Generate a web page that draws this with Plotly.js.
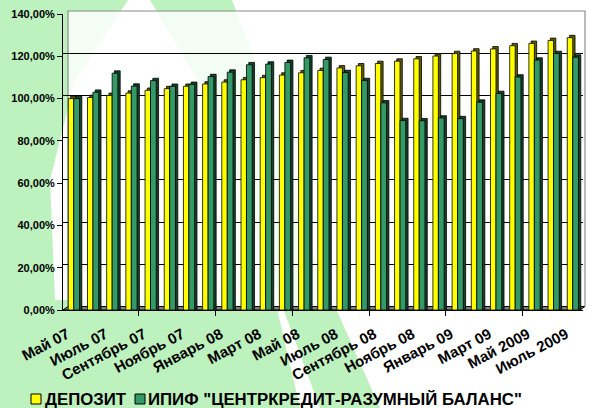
<!DOCTYPE html>
<html><head><meta charset="utf-8">
<script src="https://cdn.plot.ly/plotly-3.0.1.min.js"></script>
<style>html,body{margin:0;padding:0;background:#fff}#chart{width:589px;height:408px}</style>
</head><body><div id="chart"></div>
<script>
const months = ["Май 07","Июнь 07","Июль 07","Август 07","Сентябрь 07","Октябрь 07","Ноябрь 07","Декабрь 07","Январь 08","Февраль 08","Март 08","Апрель 08","Май 08","Июнь 08","Июль 08","Август 08","Сентябрь 08","Октябрь 08","Ноябрь 08","Декабрь 08","Январь 09","Февраль 09","Март 09","Апрель 09","Май 2009","Июнь 2009","Июль 2009"];
const deposit = [100, 100.5, 101.5, 102.6, 103.9, 104.7, 105.8, 106.9, 107.8, 108.9, 109.9, 111.1, 112.2, 113.3, 114.5, 115.5, 116.6, 117.7, 118.8, 120.1, 121.3, 122.5, 123.5, 125.0, 126.1, 127.5, 128.8];
const fund = [100, 103, 112, 105.9, 108.5, 105.8, 106.7, 110.4, 112.5, 116, 116.3, 117.1, 119.3, 118.5, 112.3, 108.5, 98, 89.6, 89.5, 90.8, 90.5, 98.3, 102.4, 110.2, 118.2, 121.3, 119.6];
const seriesNames = ["ДЕПОЗИТ", "ИПИФ \"ЦЕНТРКРЕДИТ-РАЗУМНЫЙ БАЛАНС\""];
const seriesColors = ["#FFFF00", "#339966"];
const yTickVals = [0, 20, 40, 60, 80, 100, 120, 140];
const yTickText = ["0,00%", "20,00%", "40,00%", "60,00%", "80,00%", "100,00%", "120,00%", "140,00%"];

const idx = months.map((m, i) => i);
const labelIdx = idx.filter(i => i % 2 === 0);
const labelText = labelIdx.map(i => months[i]);

// geometry (pixels of the plot area)
const L = 63, R = 583, T = 14, B = 310;
const W = 589, H = 408;
const PX = px => (px - L) / (R - L);
const PY = py => (B - py) / (B - T);
const pathFrom = pts => pts.map((p, i) => (i ? 'L' : 'M') + PX(p[0]).toFixed(4) + ',' + PY(p[1]).toFixed(4)).join(' ') + ' Z';

const dX = 0.12, dY = 1.1;
const yOff = -0.35, yW = 0.285, gOff = -0.065, gW = 0.3;
const font = "'Liberation Sans', Arial, sans-serif";

const traces = [
  {type: 'bar', x: idx, y: deposit.map(v => v + dY), offset: yOff + dX, width: yW,
   marker: {color: '#5e5e00', line: {color: '#000', width: 0.8}}, showlegend: false, hoverinfo: 'skip'},
  {type: 'bar', x: idx, y: deposit, offset: yOff, width: yW, name: seriesNames[0],
   marker: {color: seriesColors[0], line: {color: '#000', width: 0.8}}},
  {type: 'bar', x: idx, y: fund.map(v => v + dY), offset: gOff + dX, width: gW,
   marker: {color: '#17402a', line: {color: '#000', width: 0.8}}, showlegend: false, hoverinfo: 'skip'},
  {type: 'bar', x: idx, y: fund, offset: gOff, width: gW, name: seriesNames[1],
   marker: {color: seriesColors[1], line: {color: '#000', width: 0.8}}},
  // invisible trace to bring in the overlay axis for shifted back-wall gridlines
  {type: 'scatter', x: [0], y: [0], xaxis: 'x2', yaxis: 'y2', mode: 'markers',
   marker: {opacity: 0}, showlegend: false, hoverinfo: 'skip'}
];

const green = '#bdf1bd';
const shapes = [
  {type: 'path', xref: 'paper', yref: 'paper', layer: 'below', fillcolor: green, line: {width: 0},
   path: pathFrom([[0,0],[128,0],[75,80],[50,180],[55,300],[70,408],[0,408]])},
  {type: 'path', xref: 'paper', yref: 'paper', layer: 'below', fillcolor: green, line: {width: 0},
   path: pathFrom([[150,0],[232,0],[270,100],[310,250],[380,408],[320,408],[265,260],[215,110]])},
  {type: 'path', xref: 'paper', yref: 'paper', layer: 'below', fillcolor: green, line: {width: 0},
   path: pathFrom([[0,300],[275,300],[300,408],[0,408]])},
  // translucent back wall
  {type: 'rect', xref: 'paper', yref: 'paper', layer: 'below', fillcolor: 'rgba(255,255,255,0.82)', line: {width: 0},
   x0: PX(68), x1: PX(585), y0: PY(306.5), y1: PY(11)},
  // floor
  {type: 'path', xref: 'paper', yref: 'paper', layer: 'below', fillcolor: '#7f7f7f', line: {color: '#000', width: 1},
   path: pathFrom([[63,310],[580,310],[585,306.5],[68,306.5]])},
  // wall frame
  {type: 'path', xref: 'paper', yref: 'paper', layer: 'below', line: {color: '#8c8c8c', width: 1.2},
   path: 'M' + PX(68) + ',' + PY(306.5) + ' L' + PX(68) + ',' + PY(11) + ' L' + PX(585) + ',' + PY(11) + ' L' + PX(585) + ',' + PY(306.5)},
  // legend keys
  {type: 'rect', xref: 'paper', yref: 'paper', layer: 'above', fillcolor: seriesColors[0], line: {color: '#000', width: 1},
   x0: PX(31), x1: PX(41), y0: PY(404), y1: PY(394)},
  {type: 'rect', xref: 'paper', yref: 'paper', layer: 'above', fillcolor: seriesColors[1], line: {color: '#000', width: 1},
   x0: PX(135), x1: PX(145), y0: PY(404), y1: PY(394)}
];

const annotations = [
  {text: seriesNames[0], xref: 'paper', yref: 'paper', x: PX(43), y: PY(399.5), xanchor: 'left', yanchor: 'middle',
   showarrow: false, font: {size: 16.8, weight: 700, family: font, color: '#000'}},
  {text: seriesNames[1], xref: 'paper', yref: 'paper', x: PX(146), y: PY(399.5), xanchor: 'left', yanchor: 'middle',
   showarrow: false, font: {size: 16.8, weight: 700, family: font, color: '#000'}}
];

const layout = {
  width: W, height: H,
  margin: {l: L, r: W - R, t: T, b: H - B, pad: 0},
  paper_bgcolor: '#fff', plot_bgcolor: 'rgba(0,0,0,0)',
  barmode: 'overlay',
  font: {family: font, color: '#000'},
  xaxis: {range: [-0.625, 26.47], tickvals: labelIdx, ticktext: labelText, tickangle: -28,
          ticks: '', showgrid: false, zeroline: false, showline: true, linecolor: '#000', linewidth: 1,
          tickfont: {size: 15, weight: 700, family: font}, ticklabelshift: -8, ticklabelstandoff: 9},
  xaxis2: {overlaying: 'x', anchor: 'y', side: 'bottom', range: [-0.625, 26.47],
           tickvals: [0, 4, 8, 12, 16, 20, 24].map(v => v - 0.67), ticks: 'outside', ticklen: 5, tickcolor: '#000',
           showticklabels: false, showgrid: false, zeroline: false},
  yaxis: {range: [0, 140], tickvals: yTickVals, ticktext: yTickText, ticks: 'outside', ticklen: 5,
          tickcolor: '#000', showline: true, linecolor: '#000', showgrid: false, zeroline: false,
          tickfont: {size: 11, weight: 700, family: font}},
  yaxis2: {overlaying: 'y', anchor: 'x', range: [-1.5, 138.5], tickvals: yTickVals.slice(1, 7),
           showticklabels: false, ticks: '', showgrid: true, gridcolor: '#000', gridwidth: 1, zeroline: false},
  shapes: shapes,
  annotations: annotations,
  showlegend: false
};

Plotly.newPlot('chart', traces, layout, {staticPlot: true, displayModeBar: false});
</script></body></html>
